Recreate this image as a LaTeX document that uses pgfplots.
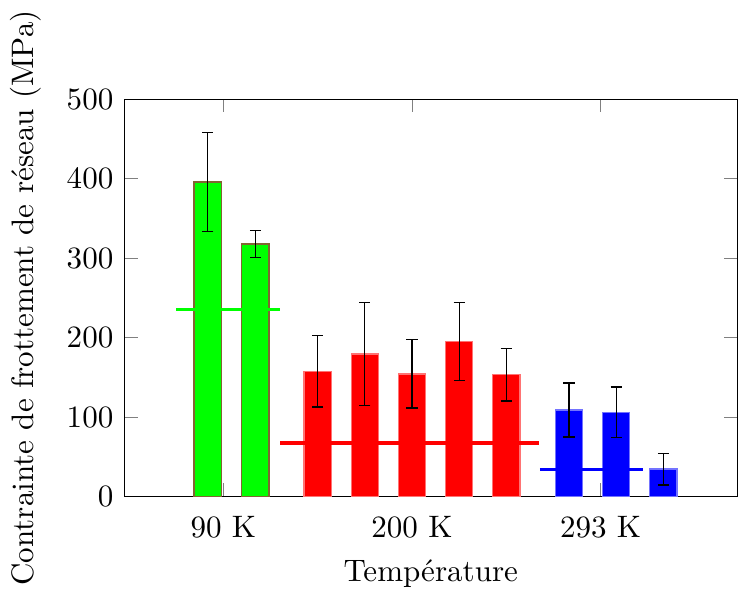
\documentclass[border=0pt]{standalone}
\usepackage{pgfplots}
\pgfplotsset{compat=1.18}
\definecolor{gbord}{RGB}{130,100,50}
\begin{document}
\begin{tikzpicture}
\begin{axis}[
  scale only axis,
  width=197.5pt, height=128pt,
  xmin=-2.10, xmax=10.90,
  ymin=0, ymax=500,
  xtick={0,4,8},
  xticklabels={90 K, 200 K, 293 K},
  ytick={0,100,200,300,400,500},
  xticklabel style={yshift=-2.8pt},
  xlabel={Température},
  ylabel={Contrainte de frottement de réseau (MPa)},
  ylabel style={yshift=1.3pt},
]
% green bars (90 K)
\addplot+[ybar, bar width=8.8pt, bar shift=0pt, fill=green, draw=gbord, mark=none,
  error bars/.cd, y dir=both, y explicit,
  error bar style={black}, error mark options={black, rotate=90, mark size=1.8pt}]
  coordinates {(-0.33,395.8) +- (0,62) (0.68,317.7) +- (0,17)};
% red bars (200 K)
\addplot+[ybar, bar width=8.8pt, bar shift=0pt, fill=red, draw=red!55, mark=none,
  error bars/.cd, y dir=both, y explicit,
  error bar style={black}, error mark options={black, rotate=90, mark size=1.8pt}]
  coordinates {(2,157.8) +- (0,45) (3,179.3) +- (0,65) (4,154.4) +- (0,43) (5,194.9) +- (0,49) (6,153.2) +- (0,33)};
% blue bars (293 K)
\addplot+[ybar, bar width=8.8pt, bar shift=0pt, fill=blue, draw=blue!55, mark=none,
  error bars/.cd, y dir=both, y explicit,
  error bar style={black}, error mark options={black, rotate=90, mark size=1.8pt}]
  coordinates {(7.33,108.9) +- (0,34) (8.33,105.9) +- (0,32) (9.33,34.6) +- (0,20)};
% mean lines
\addplot[green, line width=1pt] coordinates {(-1.0,235.4) (1.21,235.4)};
\addplot[red, line width=1pt] coordinates {(1.21,67.5) (6.69,67.5)};
\addplot[blue, line width=1pt] coordinates {(6.71,34.4) (8.90,34.4)};
\end{axis}
\end{tikzpicture}
\end{document}
